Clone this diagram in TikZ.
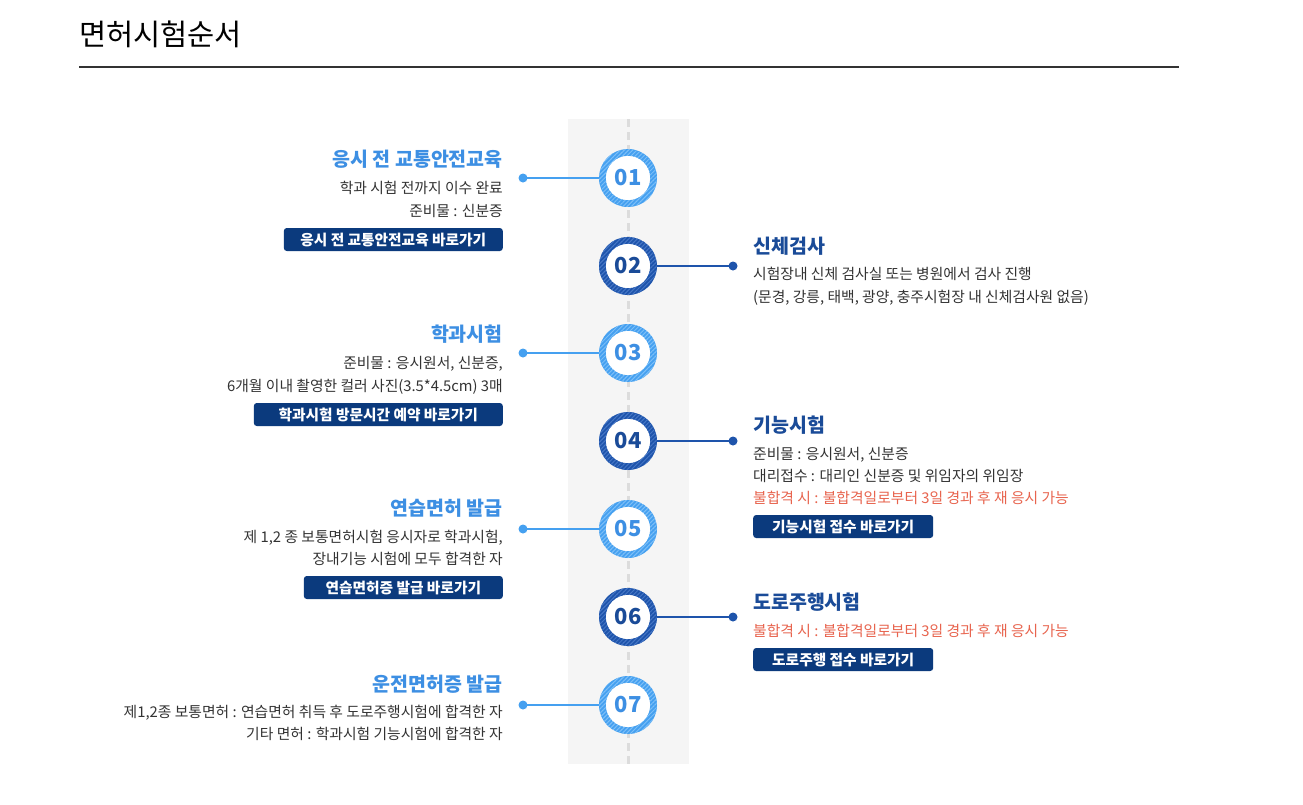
\documentclass[tikz,border=0pt]{standalone}
\usepackage{fontspec}
\setmainfont{Noto Sans CJK KR}
\usetikzlibrary{patterns.meta}
\definecolor{txt}{HTML}{333333}
\definecolor{lblue}{HTML}{3D8FE3}
\definecolor{dblue}{HTML}{1A4B98}
\definecolor{ringL}{HTML}{45A0F0}
\definecolor{ringLs}{HTML}{7DBFF8}
\definecolor{ringD}{HTML}{1E54AB}
\definecolor{ringDs}{HTML}{4677C6}
\definecolor{btnc}{HTML}{0B3A7D}
\definecolor{redt}{HTML}{E8644E}
\definecolor{bandc}{HTML}{F5F5F5}
\definecolor{dashc}{HTML}{DCDCDC}
\tikzset{
  x=1pt, y=-1pt,
  ltitle/.style={anchor=base east, inner sep=0, font=\fontsize{19.5}{21}\selectfont\bfseries, text=lblue},
  rtitle/.style={anchor=base west, inner sep=0, font=\fontsize{19.5}{21}\selectfont\bfseries, text=dblue},
  lbody/.style={anchor=base east, inner sep=0, font=\fontsize{14.8}{16}\selectfont, text=txt},
  rbody/.style={anchor=base west, inner sep=0, font=\fontsize{14.8}{16}\selectfont, text=txt},
  rred/.style={rbody, text=redt},
  btn/.style={fill=btnc, rounded corners=3pt, minimum height=23pt, inner sep=0, text=white, font=\fontsize{14.7}{16}\selectfont\bfseries},
  stepnum/.style={circle, minimum size=58pt, inner sep=0, font=\fontsize{22}{24}\selectfont\bfseries},
  lconn/.style={draw=ringL, line width=2pt},
  rconn/.style={draw=ringD, line width=2pt},
}
\newcommand{\ringL}[1]{%
  \fill[ringL, even odd rule] (#1) circle (29pt) (#1) circle (22pt);
  \fill[pattern={Lines[angle=45,distance=3pt,line width=1pt]}, pattern color=ringLs, even odd rule] (#1) circle (29pt) (#1) circle (22pt);
  \fill[white] (#1) circle (22pt);}
\newcommand{\ringD}[1]{%
  \fill[ringD, even odd rule] (#1) circle (29pt) (#1) circle (22pt);
  \fill[pattern={Lines[angle=45,distance=3pt,line width=1pt]}, pattern color=ringDs, even odd rule] (#1) circle (29pt) (#1) circle (22pt);
  \fill[white] (#1) circle (22pt);}
\begin{document}
\begin{tikzpicture}
\useasboundingbox (0,0) rectangle (1303,804);
\fill[white] (0,0) rectangle (1303,804);
% header
\node[anchor=base west, inner sep=0, font=\fontsize{29.5}{32}\selectfont, text=black] (title) at (79,45) {면허시험순서};
\coordinate (hl) at (79,67);
\coordinate (hr) at (1179,67);
\draw[line width=2pt, color=txt] (hl) -- (hr);
% band
\fill[bandc] (568,119) rectangle (689,764);
\coordinate (dtop) at (628,119);
\coordinate (dbot) at (628,764);
\draw[dashc, line width=3pt, dash pattern=on 8pt off 5pt] (dtop) -- (dbot);
% circles
\coordinate (c1) at (628,178);
\coordinate (c2) at (628,266);
\coordinate (c3) at (628,353);
\coordinate (c4) at (628,441);
\coordinate (c5) at (628,529);
\coordinate (c6) at (628,617);
\coordinate (c7) at (628,705);
\ringL{c1}\ringD{c2}\ringL{c3}\ringD{c4}\ringL{c5}\ringD{c6}\ringL{c7}
\node[stepnum, text=lblue] (s1) at (c1) {01};
\node[stepnum, text=dblue] (s2) at (c2) {02};
\node[stepnum, text=lblue] (s3) at (c3) {03};
\node[stepnum, text=dblue] (s4) at (c4) {04};
\node[stepnum, text=lblue] (s5) at (c5) {05};
\node[stepnum, text=dblue] (s6) at (c6) {06};
\node[stepnum, text=lblue] (s7) at (c7) {07};
% connectors
\coordinate (d1) at (523,178);
\coordinate (d2) at (733,266);
\coordinate (d3) at (523,353);
\coordinate (d4) at (733,441);
\coordinate (d5) at (523,529);
\coordinate (d6) at (733,617);
\coordinate (d7) at (523,705);
\foreach \i in {1,3,5,7}{\draw[lconn] (d\i) -- (s\i.west); \fill[ringL] (d\i) circle (4.5pt);}
\foreach \i in {2,4,6}{\draw[rconn] (s\i.east) -- (d\i); \fill[ringD] (d\i) circle (4.5pt);}
% step 1
\node[ltitle] (t1) at (503,166) {응시 전 교통안전교육};
\node[lbody] (t1a) at (503,193) {학과 시험 전까지 이수 완료};
\node[lbody] (t1b) at (503,216) {준비물 : 신분증};
\node[btn, minimum width=219pt, anchor=east] (b1) at (503,239.5) {응시 전 교통안전교육 바로가기};
% step 2
\node[rtitle] (t2) at (753,253) {신체검사};
\node[rbody] (t2a) at (753,279) {시험장내 신체 검사실 또는 병원에서 검사 진행};
\node[rbody] (t2b) at (753,302) {(문경, 강릉, 태백, 광양, 충주시험장 내 신체검사원 없음)};
% step 3
\node[ltitle] (t3) at (503,341) {학과시험};
\node[lbody] (t3a) at (503,368) {준비물 : 응시원서, 신분증,};
\node[lbody] (t3b) at (503,391) {6개월 이내 촬영한 컬러 사진(3.5*4.5cm) 3매};
\node[btn, minimum width=249pt, anchor=east] (b3) at (503,414.5) {학과시험 방문시간 예약 바로가기};
% step 4
\node[rtitle] (t4) at (753,432) {기능시험};
\node[rbody] (t4a) at (753,459) {준비물 : 응시원서, 신분증};
\node[rbody] (t4b) at (753,481) {대리접수 : 대리인 신분증 및 위임자의 위임장};
\node[rred] (t4c) at (753,503) {불합격 시 : 불합격일로부터 3일 경과 후 재 응시 가능};
\node[btn, minimum width=180pt, anchor=west] (b4) at (753,526.5) {기능시험 접수 바로가기};
% step 5
\node[ltitle] (t5) at (503,515) {연습면허 발급};
\node[lbody] (t5a) at (503,542) {제 1,2 종 보통면허시험 응시자로 학과시험,};
\node[lbody] (t5b) at (503,564) {장내기능 시험에 모두 합격한 자};
\node[btn, minimum width=199pt, anchor=east] (b5) at (503,587.5) {연습면허증 발급 바로가기};
% step 6
\node[rtitle] (t6) at (753,609) {도로주행시험};
\node[rred] (t6a) at (753,636) {불합격 시 : 불합격일로부터 3일 경과 후 재 응시 가능};
\node[btn, minimum width=180pt, anchor=west] (b6) at (753,659.5) {도로주행 접수 바로가기};
% step 7
\node[ltitle] (t7) at (503,691) {운전면허증 발급};
\node[lbody] (t7a) at (503,717) {제1,2종 보통면허 : 연습면허 취득 후 도로주행시험에 합격한 자};
\node[lbody] (t7b) at (503,739) {기타 면허 : 학과시험 기능시험에 합격한 자};
\end{tikzpicture}
\end{document}
